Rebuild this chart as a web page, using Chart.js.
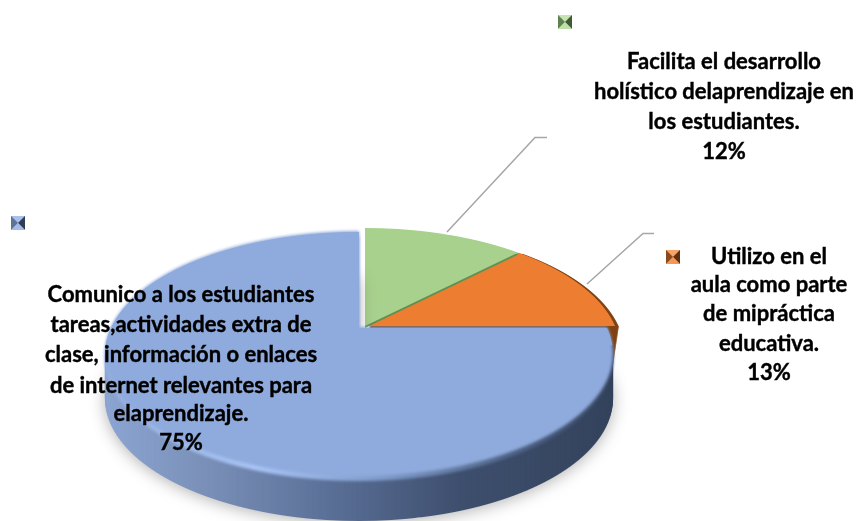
<!DOCTYPE html>
<html>
<head>
<meta charset="utf-8">
<style>
html, body { margin: 0; padding: 0; background: #fff; }
#wrap { width: 861px; height: 521px; }
</style>
<script src="https://cdn.jsdelivr.net/npm/chart.js@4"></script>
</head>
<body>
<div id="wrap"><canvas id="pie-chart" width="861" height="521"></canvas></div>
<script>
var categories = ['Facilita el desarrollo holístico delaprendizaje en los estudiantes.', 'Utilizo en el aula como parte de mipráctica educativa.', 'Comunico a los estudiantes tareas,actividades extra de clase, información o enlaces de internet relevantes para elaprendizaje.'];
var values = [12.4, 12.6, 75];
var colors = ['#A9D18E', '#ED7D31', '#8FAADC'];

var labelLines = [
   ['Facilita el desarrollo', 'holístico delaprendizaje en', 'los estudiantes.', '12%'],
   ['Utilizo en el', 'aula como parte', 'de mipráctica', 'educativa.', '13%'],
   ['Comunico a los estudiantes', 'tareas,actividades extra de', 'clase, información o enlaces', 'de internet relevantes para', 'elaprendizaje.', '75%']
];

var W = 861, H = 521;

// perspective of the pie: ax/ay = apex, back/front = reach up and down from apex, s = half width at apex row
function persp(ax, ay, back, front, s) {
   var c = (back - front) / (back + front);
   return { ax: ax, ay: ay, c: c, a: front * (1 + c), s: s, top: ay - back, bottom: ay + front };
}
var blueView = persp(359, 328, 96, 149, 248);
var restView = persp(365, 326, 98, 149, 250);

function newLayer() {
   var c = document.createElement('canvas');
   c.width = W;
   c.height = H;
   return c;
}

// the library draws the slice, one pixel row at a time, through a changing transform
function drawSlice(arc, view) {
   var layer = newLayer();
   var g = layer.getContext('2d');
   var R = arc.outerRadius;
   for (var y = view.top; y < view.bottom; y++) {
      var d = y + 0.5 - view.ay;
      var den = view.a - view.c * d;
      var v = d / den;
      var sx = view.s / ((1 + view.c * v) * R);
      var sy = den * den / (view.a * R);
      g.save();
      g.beginPath();
      g.rect(0, y, W, 1);
      g.clip();
      g.setTransform(sx, 0, 0, sy, view.ax - arc.x * sx, y + 0.5 - (arc.y + v * R) * sy);
      arc.draw(g);
      g.restore();
   }
   return layer;
}

function tint(layer, stops) {
   var out = newLayer();
   var g = out.getContext('2d');
   g.drawImage(layer, 0, 0);
   g.globalCompositeOperation = 'source-atop';
   var grad = g.createLinearGradient(104, 0, 612, 0);
   stops.forEach(function (st) { grad.addColorStop(st[0], st[1]); });
   g.fillStyle = grad;
   g.fillRect(0, 0, W, H);
   return out;
}

var wallStops = [[0, '#8CA5D2'], [0.2, '#7A90B8'], [0.45, '#5A6F96'], [0.7, '#3E4F6E'], [1, '#34435C']];
var rimStops = [[0, '#96B1E0'], [0.3, '#A9C5F6'], [0.55, '#7F9BCB'], [0.8, '#4F6486'], [1, '#3A4A66']];

var piePlugin = {
   id: 'pie3d',
   beforeDatasetsDraw: function (chart) {
      var ctx = chart.ctx;
      var arcs = chart.getDatasetMeta(0).data;
      var green = drawSlice(arcs[0], restView);
      var orange = drawSlice(arcs[1], restView);
      var blue = drawSlice(arcs[2], blueView);
      var i;

      ctx.drawImage(orange, 0, 0);
      var brown = tint(orange, [[0, '#7F4212'], [1, '#7F4212']]);
      for (i = 50; i >= 1; i--) {
         ctx.drawImage(brown, 4 - i * 0.15, i);
      }
      ctx.drawImage(orange, 0, 0);
      ctx.drawImage(tint(green, [[0, '#5F8F52'], [1, '#5F8F52']]), 0, 2);
      ctx.drawImage(green, 0, 0);

      var wall = tint(blue, wallStops);
      ctx.save();
      ctx.shadowColor = 'rgba(0,0,0,0.3)';
      ctx.shadowBlur = 16;
      ctx.shadowOffsetY = 2;
      ctx.drawImage(wall, 0, 44);
      ctx.restore();
      for (i = 43; i >= 1; i--) {
         ctx.drawImage(wall, 0, i);
      }
      var rim = tint(blue, rimStops);
      ctx.save();
      ctx.filter = 'blur(1.5px)';
      ctx.drawImage(rim, 0, 4);
      ctx.filter = 'blur(1.5px)';
      ctx.drawImage(blue, 0, -1);
      ctx.restore();
      // back part of the top stays sharp
      ctx.drawImage(blue, 0, 0, W, 345, 0, 0, W, 345);
      return false;
   },
   afterDraw: function (chart) {
      var ctx = chart.ctx;
      ctx.save();

      // leader lines
      ctx.strokeStyle = '#A6A6A6';
      ctx.lineWidth = 1.5;
      ctx.beginPath();
      ctx.moveTo(447, 232);
      ctx.lineTo(535, 137.5);
      ctx.lineTo(547, 137.5);
      ctx.moveTo(587, 284);
      ctx.lineTo(643, 233.5);
      ctx.lineTo(654, 233.5);
      ctx.stroke();

      // legend keys, no text next to them in the original
      drawKey(ctx, 558, 15, colors[0], ['#C7E3B3', '#5F8050', '#3F5A35', '#BFE0A8']);
      drawKey(ctx, 666, 250, colors[1], ['#F4A46E', '#8A4A1C', '#5E300F', '#F2985A']);
      drawKey(ctx, 11, 216, colors[2], ['#A9C0E8', '#5F7396', '#2F3D55', '#A3BBE6']);

      // labels
      ctx.fillStyle = '#000';
      ctx.strokeStyle = '#000';
      ctx.lineWidth = 0.4;
      ctx.font = 'bold 22px Lato';
      ctx.textAlign = 'center';
      ctx.textBaseline = 'middle';
      drawLines(ctx, labelLines[0], 724, [62, 92, 122, 152]);
      drawLines(ctx, labelLines[1], 769, [257, 285, 314, 344, 373]);
      drawLines(ctx, labelLines[2], 181, [295, 325, 355, 386, 414, 443]);
      ctx.restore();
   }
};

function drawLines(ctx, lines, x, ys) {
   lines.forEach(function (line, i) {
      ctx.fillText(line, x, ys[i]);
      ctx.strokeText(line, x, ys[i]);
   });
}

function drawKey(ctx, x, y, base, sides) {
   var n = 14, mx = x + n / 2, my = y + n / 2;
   var corners = [[x, y], [x + n, y], [x + n, y + n], [x, y + n]];
   ctx.fillStyle = base;
   ctx.fillRect(x, y, n, n);
   [0, 3, 1, 2].forEach(function (side) {
      var a = corners[side], b = corners[(side + 1) % 4];
      ctx.fillStyle = sides[side === 3 ? 1 : side === 1 ? 2 : side === 2 ? 3 : 0];
      ctx.beginPath();
      ctx.moveTo(a[0], a[1]);
      ctx.lineTo(b[0], b[1]);
      ctx.lineTo(mx, my);
      ctx.closePath();
      ctx.fill();
   });
}

var pie = new Chart(document.getElementById('pie-chart'), {
   type: 'pie',
   data: {
      labels: categories,
      datasets: [{
         data: values,
         backgroundColor: colors,
         borderWidth: 0
      }]
   },
   options: {
      responsive: false,
      animation: false,
      plugins: {
         legend: { display: false },
         tooltip: { enabled: false }
      }
   },
   plugins: [piePlugin]
});
</script>
</body>
</html>
